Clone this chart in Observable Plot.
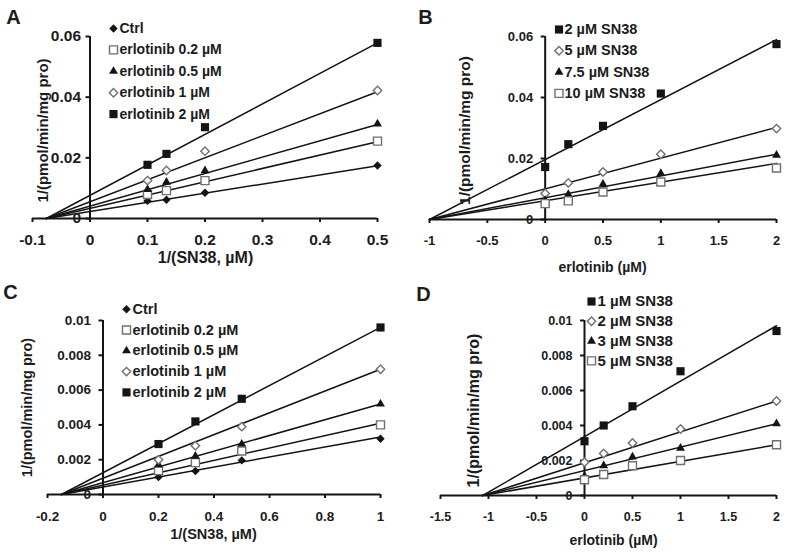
<!DOCTYPE html>
<html><head><meta charset="utf-8">
<script src="https://cdn.jsdelivr.net/npm/d3@7"></script>
<script src="https://cdn.jsdelivr.net/npm/@observablehq/plot@0.6"></script>
<style>
body{margin:0;background:#fff;}
#wrap{position:relative;width:800px;height:554px;background:#fff;}
.panel{position:absolute;}
</style>
</head><body><div id="wrap"></div>
<script>
// ---------- DATA ----------
// Panel A: 1/v vs 1/[SN38]
const A_x = [0.1, 0.133, 0.2, 0.5];
const A_series = ["Ctrl", "erlotinib 0.2 µM", "erlotinib 0.5 µM", "erlotinib 1 µM", "erlotinib 2 µM"];
const A_values = [
  [0.0058, 0.0062, 0.0085, 0.0175],
  [0.0079, 0.0092, 0.0125, 0.0255],
  [0.0096, 0.0120, 0.0158, 0.0312],
  [0.0125, 0.0158, 0.0222, 0.0422],
  [0.0177, 0.0213, 0.0301, 0.0579]
];
const A_fitX0 = -0.076;
const A_fitEnd = [0.0174, 0.0253, 0.0310, 0.0418, 0.0579];
const A_xTicks = [-0.1, 0, 0.1, 0.2, 0.3, 0.4, 0.5];
const A_yTicks = [0, 0.02, 0.04, 0.06];

// Panel B: Dixon plot
const B_x = [0, 0.2, 0.5, 1, 2];
const B_series = ["2 µM SN38", "5 µM SN38", "7.5 µM SN38", "10 µM SN38"];
const B_values = [
  [0.0172, 0.0247, 0.0307, 0.0413, 0.0575],
  [0.0085, 0.0120, 0.0156, 0.0214, 0.0298],
  [0.0063, 0.0082, 0.0116, 0.0151, 0.0211],
  [0.0052, 0.0061, 0.0090, 0.0123, 0.0169]
];
const B_fitX0 = -1;
const B_fitEnd = [0.0590, 0.0302, 0.0214, 0.0184];
const B_xTicks = [-1, -0.5, 0, 0.5, 1, 1.5, 2];
const B_yTicks = [0, 0.02, 0.04, 0.06];

// Panel C
const C_x = [0.2, 0.333, 0.5, 1];
const C_series = ["Ctrl", "erlotinib 0.2 µM", "erlotinib 0.5 µM", "erlotinib 1 µM", "erlotinib 2 µM"];
const C_values = [
  [0.0010, 0.00135, 0.00196, 0.0032],
  [0.00137, 0.00183, 0.0025, 0.0040],
  [0.0017, 0.0022, 0.0029, 0.0052],
  [0.0020, 0.0028, 0.0039, 0.0072],
  [0.0029, 0.0042, 0.0055, 0.0096]
];
const C_fitX0 = -0.15;
const C_fitEnd = [0.0033, 0.0041, 0.0052, 0.0072, 0.0096];
const C_xTicks = [-0.2, 0, 0.2, 0.4, 0.6, 0.8, 1];
const C_yTicks = [0, 0.002, 0.004, 0.006, 0.008, 0.01];

// Panel D
const D_x = [0, 0.2, 0.5, 1, 2];
const D_series = ["1 µM SN38", "2 µM SN38", "3 µM SN38", "5 µM SN38"];
const D_values = [
  [0.0031, 0.0040, 0.0051, 0.0071, 0.0094],
  [0.0019, 0.0024, 0.0030, 0.0038, 0.0054],
  [0.0011, 0.0017, 0.0022, 0.0027, 0.0041],
  [0.0009, 0.0012, 0.0017, 0.0020, 0.0029]
];
const D_fitX0 = -1.06;
const D_fitEnd = [0.0097, 0.0054, 0.0041, 0.0029];
const D_xTicks = [-1.5, -1, -0.5, 0, 0.5, 1, 1.5, 2];
const D_yTicks = [0, 0.002, 0.004, 0.006, 0.008, 0.01];

// ---------- STYLES ----------
const INK = "#141414";
const TXT = "#1c1c1c";
const OPEN = "#707070";
const SYM = {
  fdiamond: {symbol: "diamond2", fill: INK, stroke: "none", r: 3.8},
  osquare:  {symbol: "square2", fill: "white", stroke: OPEN, r: 5.1},
  ftri:     {symbol: "triangle", fill: INK, stroke: "none", r: 3.3},
  odiamond: {symbol: "diamond2", fill: "white", stroke: OPEN, r: 3.8},
  fsquare:  {symbol: "square", fill: INK, stroke: "none", r: 4.6}
};
const stylesAC = [SYM.fdiamond, SYM.osquare, SYM.ftri, SYM.odiamond, SYM.fsquare];
const stylesBD = [SYM.fsquare, SYM.odiamond, SYM.ftri, SYM.osquare];
const FONT = "'Liberation Sans', Arial, sans-serif";

function panel(cfg) {
  const W = 400, H = 277;
  const {ml, mr, mt, mb, xs, values, series, styles, fitX0, fitEnd, xTicks, yTicks} = cfg;
  const xDomain = [xTicks[0], xTicks[xTicks.length - 1]];
  const yMax = yTicks[yTicks.length - 1];
  const pxX = (xDomain[1] - xDomain[0]) / (W - ml - mr);
  const pxY = yMax / (H - mt - mb);
  const at = (px, py) => ({frameAnchor: "top-left", dx: px - ml, dy: py - mt});
  const marks = [];

  // regression lines
  series.forEach((s, i) => {
    const pts = [{x: fitX0, y: 0}, {x: xs[xs.length - 1], y: fitEnd[i]}];
    marks.push(Plot.line(pts, {x: "x", y: "y", stroke: INK, strokeWidth: 1.5}));
  });
  // axes
  marks.push(Plot.ruleY([0], {x1: xDomain[0], x2: xDomain[1], stroke: INK, strokeWidth: 2}));
  marks.push(Plot.ruleX([0], {y1: 0, y2: yMax, stroke: INK, strokeWidth: 2}));
  marks.push(Plot.ruleX(xTicks, {x: d => d, y1: 0, y2: -4 * pxY, stroke: INK, strokeWidth: 2}));
  marks.push(Plot.ruleY(yTicks, {y: d => d, x1: 0, x2: -4 * pxX, stroke: INK, strokeWidth: 2}));
  marks.push(Plot.text(xTicks, {x: d => d, y: 0, dy: cfg.xLabDy, text: d => String(d), textAnchor: "middle", lineAnchor: "middle", fontSize: cfg.tickFs, fontWeight: "bold", fill: TXT}));
  marks.push(Plot.text(yTicks, {x: 0, y: d => d, dx: -cfg.yLabGap, text: d => String(d), textAnchor: "end", lineAnchor: "middle", fontSize: cfg.tickFs, fontWeight: "bold", fill: TXT}));

  // points
  series.forEach((s, i) => {
    const st = styles[i];
    const rows = xs.map((x, j) => ({x, y: values[i][j]}));
    marks.push(Plot.dot(rows, {x: "x", y: "y", symbol: st.symbol, r: st.r, fill: st.fill, stroke: st.stroke, strokeWidth: 1.4}));
  });

  // legend
  series.forEach((s, i) => {
    const st = styles[i];
    const ry = cfg.legY + i * cfg.legStep;
    marks.push(Plot.dot([s], {...at(cfg.legSymX, ry), symbol: st.symbol, r: st.r, fill: st.fill, stroke: st.stroke, strokeWidth: 1.4}));
    marks.push(Plot.text([s], {...at(cfg.legTxtX, ry), text: d => d, textAnchor: "start", lineAnchor: "middle", fontSize: cfg.legFs, fontWeight: "bold", fill: TXT}));
  });

  // titles
  marks.push(Plot.text([cfg.xTitle], {...at(cfg.xTitlePos[0], cfg.xTitlePos[1]), text: d => d, textAnchor: "middle", lineAnchor: "middle", fontSize: cfg.titleFs, fontWeight: "bold", fill: TXT}));
  marks.push(Plot.text([cfg.yTitle], {...at(cfg.yTitlePos[0], cfg.yTitlePos[1]), text: d => d, rotate: -90, textAnchor: "middle", lineAnchor: "middle", fontSize: cfg.yTitleFs, fontWeight: "bold", fill: TXT}));
  marks.push(Plot.text([cfg.letter], {...at(cfg.letterPos[0], cfg.letterPos[1]), text: d => d, textAnchor: "middle", lineAnchor: "middle", fontSize: 20, fontWeight: "bold", fill: TXT}));

  return Plot.plot({
    width: W, height: H,
    marginLeft: ml, marginRight: mr, marginTop: mt, marginBottom: mb,
    x: {domain: xDomain, axis: null},
    y: {domain: [0, yMax], axis: null},
    style: {fontFamily: FONT, background: "white", overflow: "visible"},
    marks
  });
}

const wrap = document.getElementById("wrap");
function place(el, left, top) {
  const d = document.createElement("div");
  d.className = "panel"; d.style.left = left + "px"; d.style.top = top + "px";
  d.appendChild(el); wrap.appendChild(d);
}

place(panel({
  ml: 32, mr: 23, mt: 36, mb: 59,
  xs: A_x, values: A_values, series: A_series, styles: stylesAC, fitX0: A_fitX0, fitEnd: A_fitEnd,
  xTicks: A_xTicks, yTicks: A_yTicks,
  tickFs: 15.5, legFs: 14, titleFs: 16, yTitleFs: 15, xLabDy: 22, yLabGap: 9,
  legSymX: 113, legTxtX: 119, legY: 28, legStep: 21.4,
  xTitle: "1/(SN38, µM)", xTitlePos: [205, 257],
  yTitle: "1/(pmol/min/mg pro)", yTitlePos: [43, 130],
  letter: "A", letterPos: [13, 17]
}), 0, 0);

place(panel({
  ml: 29, mr: 24, mt: 36, mb: 58,
  xs: B_x, values: B_values, series: B_series, styles: stylesBD, fitX0: B_fitX0, fitEnd: B_fitEnd,
  xTicks: B_xTicks, yTicks: B_yTicks,
  tickFs: 13, legFs: 14.5, titleFs: 14, yTitleFs: 15.5, xLabDy: 21, yLabGap: 12,
  legSymX: 158.5, legTxtX: 164, legY: 29, legStep: 21.3,
  xTitle: "erlotinib (µM)", xTitlePos: [202, 267],
  yTitle: "1/(pmol/min/mg pro)", yTitlePos: [65, 130],
  letter: "B", letterPos: [25, 17]
}), 400, 0);

place(panel({
  ml: 47, mr: 20, mt: 43, mb: 60,
  xs: C_x, values: C_values, series: C_series, styles: stylesAC, fitX0: C_fitX0, fitEnd: C_fitEnd,
  xTicks: C_xTicks, yTicks: C_yTicks,
  tickFs: 13.5, legFs: 14.5, titleFs: 14.5, yTitleFs: 14.5, xLabDy: 22, yLabGap: 12,
  legSymX: 126, legTxtX: 132, legY: 31.7, legStep: 20.8,
  xTitle: "1/(SN38, µM)", xTitlePos: [213, 257],
  yTitle: "1/(pmol/min/mg pro)", yTitlePos: [27, 130],
  letter: "C", letterPos: [10, 15]
}), 0, 277);

place(panel({
  ml: 40, mr: 24, mt: 43, mb: 59,
  xs: D_x, values: D_values, series: D_series, styles: stylesBD, fitX0: D_fitX0, fitEnd: D_fitEnd,
  xTicks: D_xTicks, yTicks: D_yTicks,
  tickFs: 12.5, legFs: 15, titleFs: 14, yTitleFs: 16, xLabDy: 21, yLabGap: 12,
  legSymX: 191, legTxtX: 197, legY: 24, legStep: 19.8,
  xTitle: "erlotinib (µM)", xTitlePos: [213, 263],
  yTitle: "1/(pmol/min/mg pro)", yTitlePos: [73, 133],
  letter: "D", letterPos: [23, 17]
}), 400, 277);
</script>
</body></html>
